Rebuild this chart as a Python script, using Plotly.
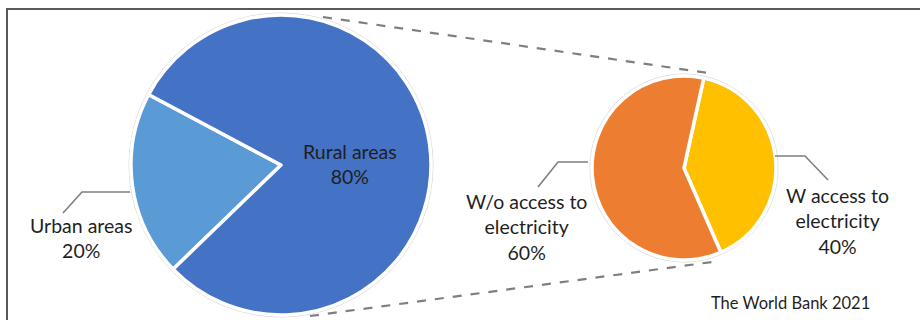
import plotly.graph_objects as go

# Share of population by area (main pie)
area_labels = ["Urban areas", "Rural areas"]
area_values = [20, 80]

# Electricity access breakdown (secondary pie)
access_labels = ["W access to<br>electricity", "W/o access to<br>electricity"]
access_values = [40, 60]

source_note = "The World Bank 2021"

W, H = 920, 320
FONT = "Lato"
TEXT = "#1f1f1f"
GRAY = "#7f7f7f"


def px(x):
    return x / W


def py(y):
    return 1 - y / H


# pie geometry in pixels: centre and radius
BIG_C, BIG_R = (281, 165), 150
SMALL_C, SMALL_R = (684, 168), 92


def domain(c, r):
    return dict(x=[px(c[0] - r), px(c[0] + r)], y=[py(c[1] + r), py(c[1] - r)])


fig = go.Figure()

fig.add_trace(go.Pie(
    labels=area_labels, values=area_values, sort=False,
    direction="counterclockwise", rotation=-134,
    marker=dict(colors=["#5B9BD5", "#4472C4"], line=dict(color="white", width=3.5)),
    textinfo="none", hoverinfo="label+percent", showlegend=False,
    domain=domain(BIG_C, BIG_R),
))

fig.add_trace(go.Pie(
    labels=access_labels, values=access_values, sort=False,
    direction="clockwise", rotation=12.4,
    marker=dict(colors=["#FFC000", "#ED7D31"], line=dict(color="white", width=3.5)),
    textinfo="none", hoverinfo="label+percent", showlegend=False,
    domain=domain(SMALL_C, SMALL_R),
))

shapes = []

# chart frame
shapes.append(dict(type="rect", xref="paper", yref="paper",
                   x0=px(7), x1=px(930), y0=py(340), y1=py(9),
                   line=dict(color="#595959", width=2)))

# faint outline around each pie
for c, r in [(BIG_C, BIG_R + 2), (SMALL_C, SMALL_R + 2)]:
    shapes.append(dict(type="circle", xref="paper", yref="paper",
                       x0=px(c[0] - r), x1=px(c[0] + r), y0=py(c[1] + r), y1=py(c[1] - r),
                       line=dict(color="#d9d9d9", width=1), layer="below"))

# dashed connectors between the two pies
for (x0, y0), (x1, y1) in [((323, 17), (708, 73)), ((310, 316), (712, 262))]:
    shapes.append(dict(type="line", xref="paper", yref="paper",
                       x0=px(x0), y0=py(y0), x1=px(x1), y1=py(y1),
                       line=dict(color=GRAY, width=2.2, dash="dash")))

# leader lines to outside labels
leaders = [
    [(130, 192), (82, 192), (63, 213)],
    [(588, 162), (558, 162), (538, 187)],
    [(775, 156), (805, 156), (828, 180)],
]
for pts in leaders:
    path = "M " + " L ".join(f"{px(x)},{py(y)}" for x, y in pts)
    shapes.append(dict(type="path", xref="paper", yref="paper", path=path,
                       line=dict(color=GRAY, width=1.6)))

annotations = []


def label(text, x, y, size=19.5):
    annotations.append(dict(text=text, x=px(x), y=py(y), xref="paper", yref="paper",
                            xanchor="center", yanchor="middle", showarrow=False,
                            font=dict(family=FONT, size=size, color=TEXT)))


label(f"{area_labels[0]}<br>{area_values[0]}%", 81, 238)
label(f"{area_labels[1]}<br>{area_values[1]}%", 350, 164)
label(f"{access_labels[1]}<br>{access_values[1]}%", 526, 227)
label(f"{access_labels[0]}<br>{access_values[0]}%", 837, 221)
label(source_note, 790, 303, size=16.5)

fig.update_layout(
    width=W, height=H,
    margin=dict(l=0, r=0, t=0, b=0),
    paper_bgcolor="white", plot_bgcolor="white",
    shapes=shapes, annotations=annotations,
)

fig.write_html("out.html")
